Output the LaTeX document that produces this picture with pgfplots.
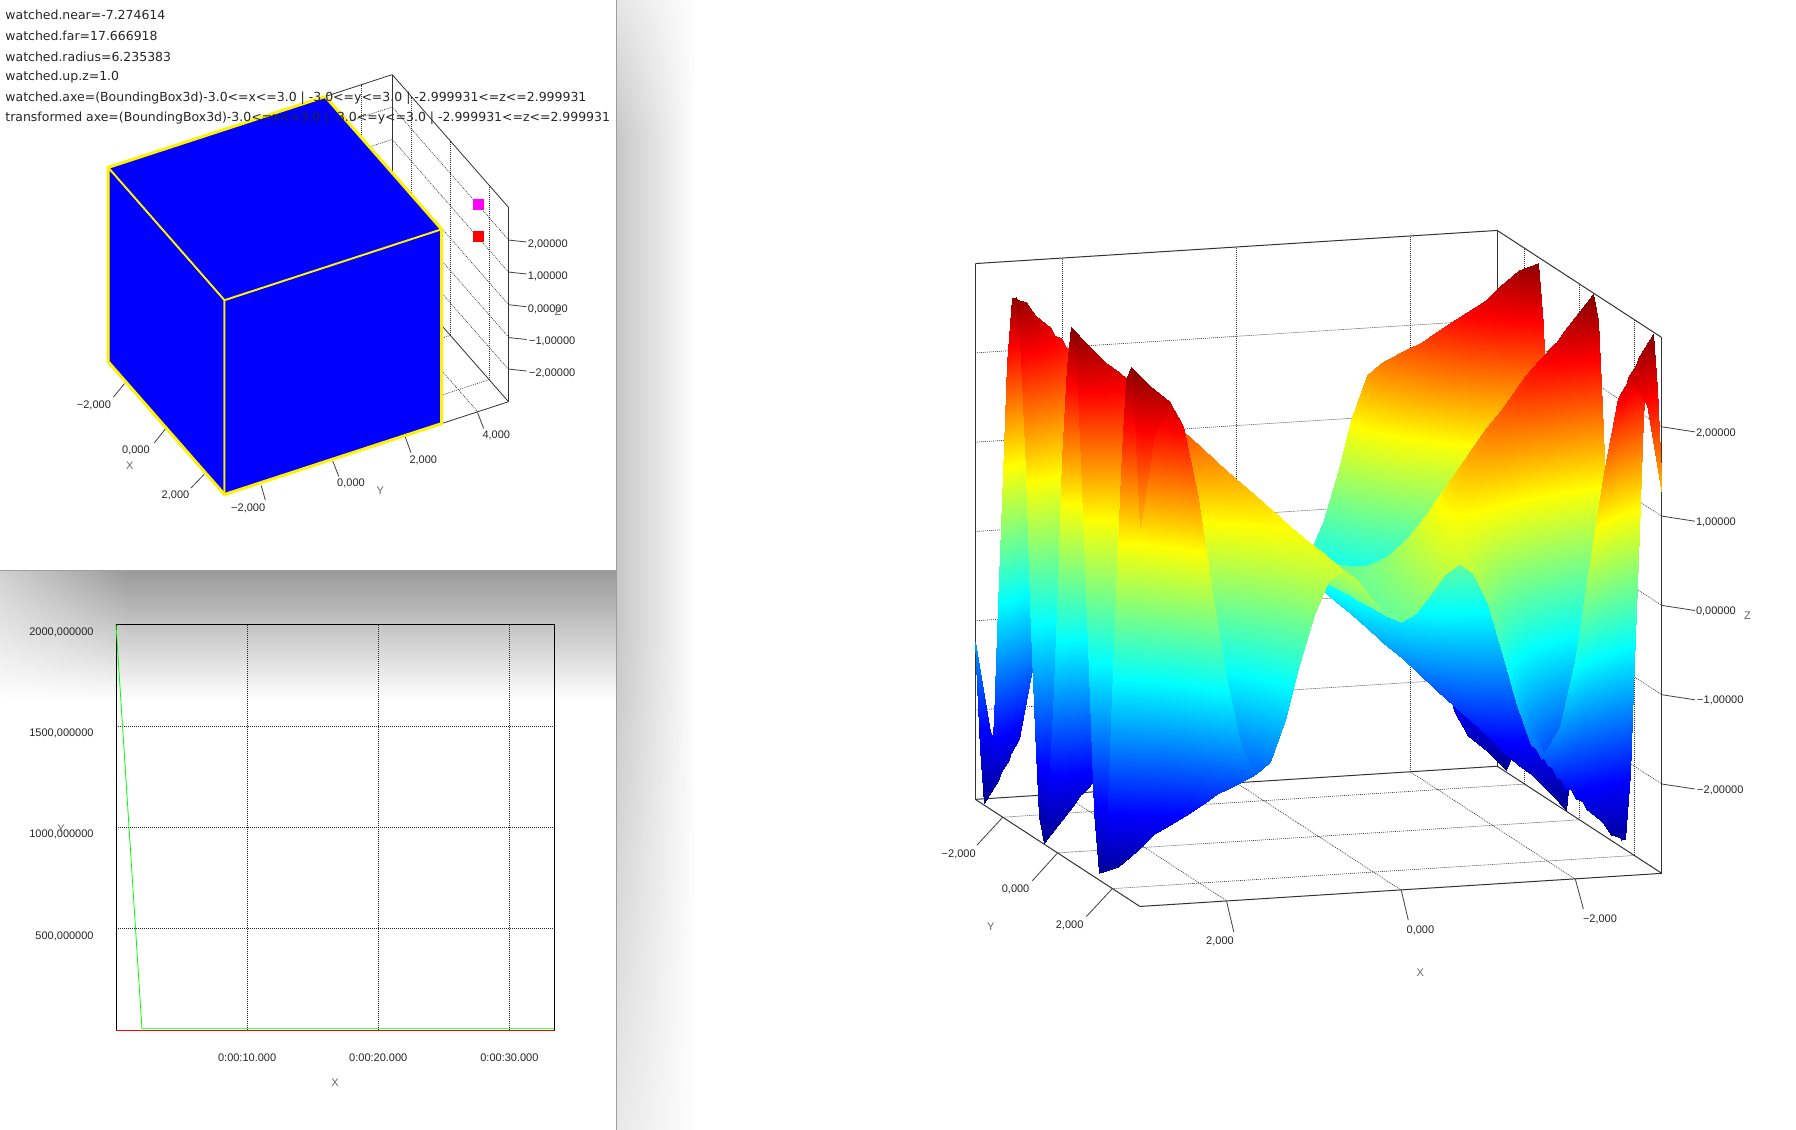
\documentclass[border=0pt]{standalone}
\usepackage{fontspec}
\setmainfont{Liberation Sans}
\newfontfamily\hudfont{DejaVu Sans}
\usepackage{pgfplots}
\pgfplotsset{compat=1.18}
\usetikzlibrary{fadings}
\definecolor{winedge}{gray}{0.62}
\definecolor{txt}{gray}{0.15}
\definecolor{pointmag}{RGB}{255,0,255}
% 1 px of the reference = 0.5pt, y runs downwards in the outer picture
\begin{document}
\begin{tikzpicture}[x=0.5pt,y=-0.5pt,
    tkl/.style={draw=black!75,line width=0.4pt},
    lab/.style={inner sep=0pt,yshift=-0.5pt,text=txt,font=\fontsize{5.5}{6.5}\selectfont},
    ttl/.style={inner sep=0pt,text=black!60,font=\fontsize{5.5}{6.5}\selectfont}]
\path[use as bounding box] (0,0) rectangle (1796,1130);
\fill[white] (0,0) rectangle (1796,1130);
% window shadows
\shade[left color=black!22,right color=white] (616,0) rectangle (696,1130);
\fill[white,opacity=0.55,path fading=south] (616,0) rectangle (700,140);
\fill[white,opacity=0.6,path fading=north] (616,620) rectangle (700,1130);
\shade[top color=black!40,bottom color=white] (0,570) rectangle (616,700);
\fill[white,opacity=0.55,path fading=east] (0,570) rectangle (130,700);
\draw[winedge,line width=0.7pt] (616.5,0) -- (616.5,1130);
\draw[winedge,line width=0.5pt] (0,570.5) -- (616,570.5);

% small 3D view with the cube
\begin{axis}[at={(137.45pt,-147.75pt)},anchor=origin,
    x={(9.69pt,-11.06pt)},y={(18.09pt,5.91pt)},z={(0pt,16.2pt)},
    xmin=-3,xmax=3,ymin=-3,ymax=4.85,zmin=-3,zmax=3,
    xtick={-2,0,2},ytick={-2,0,2,4},ztick={-2,-1,0,1,2},
    xticklabel=\empty,yticklabel=\empty,zticklabel=\empty,
    major tick length=0pt,grid=major,clip=false,
    grid style={dash pattern=on 0.5pt off 0.5pt,black!80,line width=0.3pt},
    axis line style={black!80,line width=0.4pt}]
\addplot3[fill=blue,draw=yellow,line width=0.9pt] coordinates {(-3,-3,3)(3,-3,3)(3,-3,-3)(-3,-3,-3)(-3,-3,3)};
\addplot3[fill=blue,draw=yellow,line width=0.9pt] coordinates {(3,-3,3)(3,3,3)(3,3,-3)(3,-3,-3)(3,-3,3)};
\addplot3[fill=blue,draw=yellow,line width=0.9pt] coordinates {(-3,-3,3)(3,-3,3)(3,3,3)(-3,3,3)(-3,-3,3)};
\addplot3[draw=yellow,line width=1.5pt] coordinates {(-3,-3,-3)(3,-3,-3)(3,3,-3)(3,3,3)(-3,3,3)(-3,-3,3)(-3,-3,-3)};
\addplot3[only marks,mark=square*,mark size=2.5pt,pointmag] coordinates {(2,4.56,2.51)};
\addplot3[only marks,mark=square*,mark size=2.5pt,red] coordinates {(2,4.56,1.53)};
\end{axis}
\foreach \a/\b/\c/\d in {124.5/383.6/113.5/397,165.3/429/154.3/442.9,204/474.5/191/488,
  261.2/485.5/265.3/500,332.7/461/338.8/476.4,405.3/437.1/411/452.7,477.6/412.7/483.7/428.4,
  508.2/240/526.5/242,508.2/272/526.5/274,508.2/304.7/526.5/306.7,508.2/337.5/526.5/339.5,508.2/369/526.5/371}
  \draw[tkl] (\a,\b) -- (\c,\d);
\node[lab] at (93.9,404.4) {−2,000};
\node[lab] at (135.9,449.8) {0,000};
\node[lab] at (175.5,494.5) {2,000};
\node[lab] at (248.2,507.3) {−2,000};
\node[lab] at (351,482.5) {0,000};
\node[lab] at (423.3,458.9) {2,000};
\node[lab] at (496.3,434.2) {4,000};
\node[lab] at (547.8,242.9) {2,00000};
\node[lab] at (547.8,275.3) {1,00000};
\node[lab] at (547.8,308.4) {0,00000};
\node[lab] at (552.2,340) {−1,00000};
\node[lab] at (552.2,372.7) {−2,00000};
\node[ttl] at (129.8,466.2) {X};
\node[ttl] at (380.4,490.9) {Y};
\node[ttl] at (558,311.6) {Z};
% read-out lines over the view
\foreach \yy/\tx in {15.3/{watched.near=-7.274614},35.6/{watched.far=17.666918},56.4/{watched.radius=6.235383},77/{watched.up.z=1.0},
  98/{watched.axe=(BoundingBox3d)-3.0<=x<=3.0 | -3.0<=y<=3.0 | -2.999931<=z<=2.999931},
  118.5/{transformed axe=(BoundingBox3d)-3.0<=x<=3.0 | -3.0<=y<=3.0 | -2.999931<=z<=2.999931}}
  \node[anchor=west,inner sep=0pt,text=txt,font=\hudfont\fontsize{6.24}{7}\selectfont] at (5,\yy) {\tx};

% time series panel
\begin{axis}[at={(58pt,-515pt)},anchor=south west,scale only axis,width=219pt,height=202.7pt,
    xmin=0,xmax=33.4,ymin=0,ymax=2000,clip=false,
    xtick={10,20,30},xticklabels={0:00:10.000,0:00:20.000,0:00:30.000},
    ytick={500,1000,1500,2000},yticklabels={{500,000000},{1000,000000},{1500,000000},{2000,000000}},
    major tick length=0pt,grid=major,
    grid style={dash pattern=on 0.5pt off 0.5pt,black!85,line width=0.35pt},
    axis line style={black,line width=0.5pt},
    tick label style={font=\fontsize{5.5}{6.5}\selectfont,text=txt,inner sep=0pt},
    yticklabel style={anchor=east,xshift=-11pt,yshift=-3.7pt},
    xticklabel style={anchor=center,yshift=-14pt},
    xlabel={X},ylabel={Y},
    every axis x label/.style={at={(axis description cs:0.5,0)},anchor=center,yshift=-26.5pt,font=\fontsize{5.5}{6.5}\selectfont,text=black!60},
    every axis y label/.style={at={(axis description cs:0,0.496)},anchor=center,xshift=-27.5pt,font=\fontsize{5.5}{6.5}\selectfont,text=black!60}]
\addplot[red,line width=0.5pt] coordinates {(0,0)(33.4,0)};
\addplot[green,line width=0.4pt] coordinates {(0,2000)(1.98,6)(33.4,6)};
\end{axis}

% large surface view; z estimated on a 1/6 grid, x and y from the row and column number
\begin{axis}[at={(659.275pt,-284.225pt)},anchor=origin,
    x={(-43.49pt,-2.76pt)},y={(13.715pt,-8.925pt)},z={(0pt,44.65pt)},
    xmin=-3,xmax=3,ymin=-3,ymax=3,zmin=-3,zmax=3,
    xtick={-2,0,2},ytick={-2,0,2},ztick={-2,-1,0,1,2},
    xticklabel=\empty,yticklabel=\empty,zticklabel=\empty,
    major tick length=0pt,grid=major,clip=false,
    grid style={dash pattern=on 0.5pt off 0.5pt,black!80,line width=0.3pt},
    axis line style={black!80,line width=0.5pt},
    colormap={surfmap}{rgb255(0pt)=(0,0,140); rgb255(80pt)=(0,0,255); rgb255(235pt)=(0,255,255); rgb255(392pt)=(255,255,0); rgb255(530pt)=(255,0,0); rgb255(600pt)=(128,0,0)},
    point meta min=-3,point meta max=3]
\addplot3[surf,shader=interp,z buffer=sort,mesh/rows=37,mesh/cols=37,mesh/ordering=y varies]
  table[header=false,row sep=crcr,z index=0,x expr={-3+floor((\coordindex+0.5)/37)/6},y expr={-3+floor(mod(\coordindex+0.5,37))/6}] {
-1.24\\-2.40\\-2.97\\-2.81\\-1.97\\-0.65\\0.84\\2.12\\2.88\\2.93\\2.27\\1.05\\-0.42\\-1.80\\-2.73\\-2.99\\-2.52\\-1.44\\0\\1.44\\2.52\\2.99\\2.73\\1.80\\0.42\\-1.05\\-2.27\\-2.93\\-2.88\\-2.12\\-0.84\\0.65\\1.97\\2.81\\2.97\\2.40\\1.24\\
-2.26\\-2.79\\-2.71\\-2.03\\-0.91\\0.41\\1.64\\2.51\\2.83\\2.54\\1.68\\0.46\\-0.86\\-1.99\\-2.69\\-2.80\\-2.30\\-1.29\\0\\1.29\\2.30\\2.80\\2.69\\1.99\\0.86\\-0.46\\-1.68\\-2.54\\-2.83\\-2.51\\-1.64\\-0.41\\0.91\\2.03\\2.71\\2.79\\2.26\\
-2.64\\-2.55\\-1.96\\-1.00\\0.16\\1.29\\2.17\\2.63\\2.57\\2.02\\1.07\\-0.08\\-1.22\\-2.12\\-2.61\\-2.59\\-2.07\\-1.15\\0\\1.15\\2.07\\2.59\\2.61\\2.12\\1.22\\0.08\\-1.07\\-2.02\\-2.57\\-2.63\\-2.17\\-1.29\\-0.16\\1.00\\1.96\\2.55\\2.64\\
-2.35\\-1.79\\-0.94\\0.08\\1.09\\1.91\\2.40\\2.48\\2.14\\1.43\\0.48\\-0.56\\-1.50\\-2.18\\-2.49\\-2.37\\-1.85\\-1.01\\0\\1.01\\1.85\\2.37\\2.49\\2.18\\1.50\\0.56\\-0.48\\-1.43\\-2.14\\-2.48\\-2.40\\-1.91\\-1.09\\-0.08\\0.94\\1.79\\2.35\\
-1.53\\-0.75\\0.14\\1.01\\1.74\\2.20\\2.33\\2.12\\1.59\\0.82\\-0.07\\-0.95\\-1.69\\-2.17\\-2.33\\-2.15\\-1.64\\-0.88\\0\\0.88\\1.64\\2.15\\2.33\\2.17\\1.69\\0.95\\0.07\\-0.82\\-1.59\\-2.12\\-2.33\\-2.20\\-1.74\\-1.01\\-0.14\\0.75\\1.53\\
-0.47\\0.31\\1.05\\1.65\\2.04\\2.17\\2.01\\1.60\\0.98\\0.23\\-0.54\\-1.25\\-1.79\\-2.11\\-2.15\\-1.91\\-1.43\\-0.77\\0\\0.77\\1.43\\1.91\\2.15\\2.11\\1.79\\1.25\\0.54\\-0.23\\-0.98\\-1.60\\-2.01\\-2.17\\-2.04\\-1.65\\-1.05\\-0.31\\0.47\\
0.56\\1.16\\1.63\\1.92\\2.00\\1.86\\1.51\\1.00\\0.38\\-0.28\\-0.91\\-1.45\\-1.82\\-1.99\\-1.94\\-1.68\\-1.24\\-0.65\\0\\0.65\\1.24\\1.68\\1.94\\1.99\\1.82\\1.45\\0.91\\0.28\\-0.38\\-1.00\\-1.51\\-1.86\\-2.00\\-1.92\\-1.63\\-1.16\\-0.56\\
1.29\\1.62\\1.80\\1.82\\1.66\\1.35\\0.92\\0.40\\-0.16\\-0.70\\-1.18\\-1.55\\-1.77\\-1.83\\-1.72\\-1.45\\-1.05\\-0.55\\0\\0.55\\1.05\\1.45\\1.72\\1.83\\1.77\\1.55\\1.18\\0.70\\0.16\\-0.40\\-0.92\\-1.35\\-1.66\\-1.82\\-1.80\\-1.62\\-1.29\\
1.60\\1.67\\1.61\\1.42\\1.13\\0.75\\0.32\\-0.14\\-0.59\\-1.00\\-1.33\\-1.55\\-1.66\\-1.64\\-1.49\\-1.23\\-0.88\\-0.46\\0\\0.46\\0.88\\1.23\\1.49\\1.64\\1.66\\1.55\\1.33\\1.00\\0.59\\0.14\\-0.32\\-0.75\\-1.13\\-1.42\\-1.61\\-1.67\\-1.60\\
1.47\\1.34\\1.14\\0.86\\0.53\\0.16\\-0.21\\-0.57\\-0.90\\-1.17\\-1.36\\-1.48\\-1.50\\-1.42\\-1.26\\-1.02\\-0.72\\-0.37\\0\\0.37\\0.72\\1.02\\1.26\\1.42\\1.50\\1.48\\1.36\\1.17\\0.90\\0.57\\0.21\\-0.16\\-0.53\\-0.86\\-1.14\\-1.34\\-1.47\\
1.01\\0.79\\0.54\\0.25\\-0.04\\-0.33\\-0.61\\-0.86\\-1.06\\-1.21\\-1.31\\-1.33\\-1.30\\-1.19\\-1.04\\-0.82\\-0.57\\-0.29\\0\\0.29\\0.57\\0.82\\1.04\\1.19\\1.30\\1.33\\1.31\\1.21\\1.06\\0.86\\0.61\\0.33\\0.04\\-0.25\\-0.54\\-0.79\\-1.01\\
0.41\\0.19\\-0.04\\-0.26\\-0.47\\-0.67\\-0.84\\-0.98\\-1.09\\-1.15\\-1.17\\-1.14\\-1.07\\-0.96\\-0.82\\-0.64\\-0.44\\-0.23\\0\\0.23\\0.44\\0.64\\0.82\\0.96\\1.07\\1.14\\1.17\\1.15\\1.09\\0.98\\0.84\\0.67\\0.47\\0.26\\0.04\\-0.19\\-0.41\\
-0.14\\-0.30\\-0.46\\-0.60\\-0.72\\-0.83\\-0.91\\-0.97\\-1.00\\-1.00\\-0.97\\-0.92\\-0.84\\-0.74\\-0.62\\-0.48\\-0.33\\-0.17\\0\\0.17\\0.33\\0.48\\0.62\\0.74\\0.84\\0.92\\0.97\\1.00\\1.00\\0.97\\0.91\\0.83\\0.72\\0.60\\0.46\\0.30\\0.14\\
-0.50\\-0.59\\-0.66\\-0.73\\-0.78\\-0.81\\-0.83\\-0.83\\-0.82\\-0.79\\-0.75\\-0.69\\-0.62\\-0.53\\-0.44\\-0.34\\-0.23\\-0.12\\0\\0.12\\0.23\\0.34\\0.44\\0.53\\0.62\\0.69\\0.75\\0.79\\0.82\\0.83\\0.83\\0.81\\0.78\\0.73\\0.66\\0.59\\0.50\\
-0.61\\-0.63\\-0.65\\-0.66\\-0.67\\-0.66\\-0.65\\-0.63\\-0.60\\-0.56\\-0.52\\-0.47\\-0.41\\-0.35\\-0.29\\-0.22\\-0.15\\-0.07\\0\\0.07\\0.15\\0.22\\0.29\\0.35\\0.41\\0.47\\0.52\\0.56\\0.60\\0.63\\0.65\\0.66\\0.67\\0.66\\0.65\\0.63\\0.61\\
-0.50\\-0.49\\-0.49\\-0.47\\-0.46\\-0.44\\-0.42\\-0.40\\-0.37\\-0.34\\-0.31\\-0.28\\-0.24\\-0.20\\-0.16\\-0.12\\-0.08\\-0.04\\0\\0.04\\0.08\\0.12\\0.16\\0.20\\0.24\\0.28\\0.31\\0.34\\0.37\\0.40\\0.42\\0.44\\0.46\\0.47\\0.49\\0.49\\0.50\\
-0.28\\-0.27\\-0.26\\-0.25\\-0.23\\-0.22\\-0.21\\-0.19\\-0.18\\-0.16\\-0.14\\-0.13\\-0.11\\-0.09\\-0.07\\-0.06\\-0.04\\-0.02\\0\\0.02\\0.04\\0.06\\0.07\\0.09\\0.11\\0.13\\0.14\\0.16\\0.18\\0.19\\0.21\\0.22\\0.23\\0.25\\0.26\\0.27\\0.28\\
-0.08\\-0.08\\-0.07\\-0.07\\-0.06\\-0.06\\-0.05\\-0.05\\-0.05\\-0.04\\-0.04\\-0.03\\-0.03\\-0.02\\-0.02\\-0.01\\-0.01\\0\\0\\0\\0.01\\0.01\\0.02\\0.02\\0.03\\0.03\\0.04\\0.04\\0.05\\0.05\\0.05\\0.06\\0.06\\0.07\\0.07\\0.08\\0.08\\
0\\0\\0\\0\\0\\0\\0\\0\\0\\0\\0\\0\\0\\0\\0\\0\\0\\0\\0\\0\\0\\0\\0\\0\\0\\0\\0\\0\\0\\0\\0\\0\\0\\0\\0\\0\\0\\
-0.08\\-0.08\\-0.07\\-0.07\\-0.06\\-0.06\\-0.05\\-0.05\\-0.05\\-0.04\\-0.04\\-0.03\\-0.03\\-0.02\\-0.02\\-0.01\\-0.01\\0\\0\\0\\0.01\\0.01\\0.02\\0.02\\0.03\\0.03\\0.04\\0.04\\0.05\\0.05\\0.05\\0.06\\0.06\\0.07\\0.07\\0.08\\0.08\\
-0.28\\-0.27\\-0.26\\-0.25\\-0.23\\-0.22\\-0.21\\-0.19\\-0.18\\-0.16\\-0.14\\-0.13\\-0.11\\-0.09\\-0.07\\-0.06\\-0.04\\-0.02\\0\\0.02\\0.04\\0.06\\0.07\\0.09\\0.11\\0.13\\0.14\\0.16\\0.18\\0.19\\0.21\\0.22\\0.23\\0.25\\0.26\\0.27\\0.28\\
-0.50\\-0.49\\-0.49\\-0.47\\-0.46\\-0.44\\-0.42\\-0.40\\-0.37\\-0.34\\-0.31\\-0.28\\-0.24\\-0.20\\-0.16\\-0.12\\-0.08\\-0.04\\0\\0.04\\0.08\\0.12\\0.16\\0.20\\0.24\\0.28\\0.31\\0.34\\0.37\\0.40\\0.42\\0.44\\0.46\\0.47\\0.49\\0.49\\0.50\\
-0.61\\-0.63\\-0.65\\-0.66\\-0.67\\-0.66\\-0.65\\-0.63\\-0.60\\-0.56\\-0.52\\-0.47\\-0.41\\-0.35\\-0.29\\-0.22\\-0.15\\-0.07\\0\\0.07\\0.15\\0.22\\0.29\\0.35\\0.41\\0.47\\0.52\\0.56\\0.60\\0.63\\0.65\\0.66\\0.67\\0.66\\0.65\\0.63\\0.61\\
-0.50\\-0.59\\-0.66\\-0.73\\-0.78\\-0.81\\-0.83\\-0.83\\-0.82\\-0.79\\-0.75\\-0.69\\-0.62\\-0.53\\-0.44\\-0.34\\-0.23\\-0.12\\0\\0.12\\0.23\\0.34\\0.44\\0.53\\0.62\\0.69\\0.75\\0.79\\0.82\\0.83\\0.83\\0.81\\0.78\\0.73\\0.66\\0.59\\0.50\\
-0.14\\-0.30\\-0.46\\-0.60\\-0.72\\-0.83\\-0.91\\-0.97\\-1.00\\-1.00\\-0.97\\-0.92\\-0.84\\-0.74\\-0.62\\-0.48\\-0.33\\-0.17\\0\\0.17\\0.33\\0.48\\0.62\\0.74\\0.84\\0.92\\0.97\\1.00\\1.00\\0.97\\0.91\\0.83\\0.72\\0.60\\0.46\\0.30\\0.14\\
0.41\\0.19\\-0.04\\-0.26\\-0.47\\-0.67\\-0.84\\-0.98\\-1.09\\-1.15\\-1.17\\-1.14\\-1.07\\-0.96\\-0.82\\-0.64\\-0.44\\-0.23\\0\\0.23\\0.44\\0.64\\0.82\\0.96\\1.07\\1.14\\1.17\\1.15\\1.09\\0.98\\0.84\\0.67\\0.47\\0.26\\0.04\\-0.19\\-0.41\\
1.01\\0.79\\0.54\\0.25\\-0.04\\-0.33\\-0.61\\-0.86\\-1.06\\-1.21\\-1.31\\-1.33\\-1.30\\-1.19\\-1.04\\-0.82\\-0.57\\-0.29\\0\\0.29\\0.57\\0.82\\1.04\\1.19\\1.30\\1.33\\1.31\\1.21\\1.06\\0.86\\0.61\\0.33\\0.04\\-0.25\\-0.54\\-0.79\\-1.01\\
1.47\\1.34\\1.14\\0.86\\0.53\\0.16\\-0.21\\-0.57\\-0.90\\-1.17\\-1.36\\-1.48\\-1.50\\-1.42\\-1.26\\-1.02\\-0.72\\-0.37\\0\\0.37\\0.72\\1.02\\1.26\\1.42\\1.50\\1.48\\1.36\\1.17\\0.90\\0.57\\0.21\\-0.16\\-0.53\\-0.86\\-1.14\\-1.34\\-1.47\\
1.60\\1.67\\1.61\\1.42\\1.13\\0.75\\0.32\\-0.14\\-0.59\\-1.00\\-1.33\\-1.55\\-1.66\\-1.64\\-1.49\\-1.23\\-0.88\\-0.46\\0\\0.46\\0.88\\1.23\\1.49\\1.64\\1.66\\1.55\\1.33\\1.00\\0.59\\0.14\\-0.32\\-0.75\\-1.13\\-1.42\\-1.61\\-1.67\\-1.60\\
1.29\\1.62\\1.80\\1.82\\1.66\\1.35\\0.92\\0.40\\-0.16\\-0.70\\-1.18\\-1.55\\-1.77\\-1.83\\-1.72\\-1.45\\-1.05\\-0.55\\0\\0.55\\1.05\\1.45\\1.72\\1.83\\1.77\\1.55\\1.18\\0.70\\0.16\\-0.40\\-0.92\\-1.35\\-1.66\\-1.82\\-1.80\\-1.62\\-1.29\\
0.56\\1.16\\1.63\\1.92\\2.00\\1.86\\1.51\\1.00\\0.38\\-0.28\\-0.91\\-1.45\\-1.82\\-1.99\\-1.94\\-1.68\\-1.24\\-0.65\\0\\0.65\\1.24\\1.68\\1.94\\1.99\\1.82\\1.45\\0.91\\0.28\\-0.38\\-1.00\\-1.51\\-1.86\\-2.00\\-1.92\\-1.63\\-1.16\\-0.56\\
-0.47\\0.31\\1.05\\1.65\\2.04\\2.17\\2.01\\1.60\\0.98\\0.23\\-0.54\\-1.25\\-1.79\\-2.11\\-2.15\\-1.91\\-1.43\\-0.77\\0\\0.77\\1.43\\1.91\\2.15\\2.11\\1.79\\1.25\\0.54\\-0.23\\-0.98\\-1.60\\-2.01\\-2.17\\-2.04\\-1.65\\-1.05\\-0.31\\0.47\\
-1.53\\-0.75\\0.14\\1.01\\1.74\\2.20\\2.33\\2.12\\1.59\\0.82\\-0.07\\-0.95\\-1.69\\-2.17\\-2.33\\-2.15\\-1.64\\-0.88\\0\\0.88\\1.64\\2.15\\2.33\\2.17\\1.69\\0.95\\0.07\\-0.82\\-1.59\\-2.12\\-2.33\\-2.20\\-1.74\\-1.01\\-0.14\\0.75\\1.53\\
-2.35\\-1.79\\-0.94\\0.08\\1.09\\1.91\\2.40\\2.48\\2.14\\1.43\\0.48\\-0.56\\-1.50\\-2.18\\-2.49\\-2.37\\-1.85\\-1.01\\0\\1.01\\1.85\\2.37\\2.49\\2.18\\1.50\\0.56\\-0.48\\-1.43\\-2.14\\-2.48\\-2.40\\-1.91\\-1.09\\-0.08\\0.94\\1.79\\2.35\\
-2.64\\-2.55\\-1.96\\-1.00\\0.16\\1.29\\2.17\\2.63\\2.57\\2.02\\1.07\\-0.08\\-1.22\\-2.12\\-2.61\\-2.59\\-2.07\\-1.15\\0\\1.15\\2.07\\2.59\\2.61\\2.12\\1.22\\0.08\\-1.07\\-2.02\\-2.57\\-2.63\\-2.17\\-1.29\\-0.16\\1.00\\1.96\\2.55\\2.64\\
-2.26\\-2.79\\-2.71\\-2.03\\-0.91\\0.41\\1.64\\2.51\\2.83\\2.54\\1.68\\0.46\\-0.86\\-1.99\\-2.69\\-2.80\\-2.30\\-1.29\\0\\1.29\\2.30\\2.80\\2.69\\1.99\\0.86\\-0.46\\-1.68\\-2.54\\-2.83\\-2.51\\-1.64\\-0.41\\0.91\\2.03\\2.71\\2.79\\2.26\\
-1.24\\-2.40\\-2.97\\-2.81\\-1.97\\-0.65\\0.84\\2.12\\2.88\\2.93\\2.27\\1.05\\-0.42\\-1.80\\-2.73\\-2.99\\-2.52\\-1.44\\0\\1.44\\2.52\\2.99\\2.73\\1.80\\0.42\\-1.05\\-2.27\\-2.93\\-2.88\\-2.12\\-0.84\\0.65\\1.97\\2.81\\2.97\\2.40\\1.24\\
};
\end{axis}
\foreach \a/\b/\c/\d in {1002.9/817.1/976.9/845.2,1057.6/852.9/1032.2/880.9,1112.3/888.6/1086.3/916.6,
  1226.6/901.3/1233.8/931.9,1401.1/889.6/1408.3/920.2,1575.1/878.4/1583.4/909,
  1661.8/426.8/1694.9/431.9,1661.8/516.1/1694.9/521.2,1661.8/605.4/1694.9/610.5,1661.8/694.7/1694.9/699.8,1661.8/784/1694.9/789}
  \draw[tkl] (\a,\b) -- (\c,\d);
\node[lab] at (958.7,852.9) {−2,000};
\node[lab] at (1015.6,888.6) {0,000};
\node[lab] at (1069.7,924.3) {2,000};
\node[lab] at (1220,940.6) {2,000};
\node[lab] at (1420.4,929.4) {0,000};
\node[lab] at (1600,918.2) {−2,000};
\node[lab] at (1715.9,431.9) {2,00000};
\node[lab] at (1715.9,521.2) {1,00000};
\node[lab] at (1715.9,610.5) {0,00000};
\node[lab] at (1720.3,699.8) {−1,00000};
\node[lab] at (1720.3,789.1) {−2,00000};
\node[ttl] at (990.8,926.8) {Y};
\node[ttl] at (1420.4,972.8) {X};
\node[ttl] at (1747.4,615.6) {Z};
\end{tikzpicture}
\end{document}
